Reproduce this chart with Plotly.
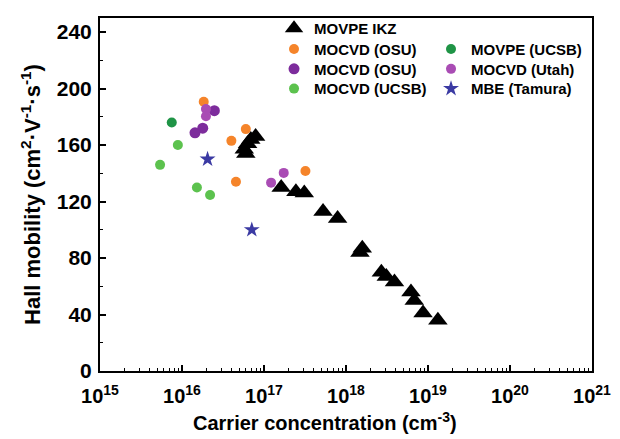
import plotly.graph_objects as go

# MOVPE IKZ
ikz_x = [5.75e16, 6.3e16, 6.9e16, 7.9e16, 6.0e16, 1.62e17, 2.45e17, 3.1e17, 5.25e17, 7.9e17,
         1.58e18, 1.48e18, 2.7e18, 3.1e18, 3.9e18, 6.2e18, 6.8e18, 8.7e18, 1.32e19]
ikz_y = [157, 161, 164, 166, 154, 130, 127, 126, 113, 108, 87, 84, 70, 67, 63, 56, 50, 41, 36]

osu_or_x = [1.84e16, 6.0e16, 4.0e16, 4.55e16, 3.2e17]
osu_or_y = [190.7, 171.3, 163, 134, 141.7]

osu_pu_x = [2.48e16, 1.79e16, 1.44e16]
osu_pu_y = [184.4, 172, 168.7]

ucsb_x = [8.9e15, 5.4e15, 1.52e16, 2.2e16]
ucsb_y = [160, 146, 130, 124.7]

movpe_ucsb_x = [7.5e15]
movpe_ucsb_y = [176]

utah_x = [1.96e16, 1.96e16, 1.74e17, 1.22e17]
utah_y = [185.5, 180.4, 140.3, 133.4]

mbe_x = [2.05e16, 7.1e16]
mbe_y = [150, 100]

x_tickvals = [1e15, 1e16, 1e17, 1e18, 1e19, 1e20, 1e21]
x_ticktext = ["<b>10<sup>%d</sup></b>" % e for e in range(15, 22)]
x_minor = [float(m) * 10.0 ** e for e in range(15, 21) for m in range(2, 10)]
y_tickvals = [0, 40, 80, 120, 160, 200, 240]

FONT = "Liberation Sans, Arial, sans-serif"

fig = go.Figure()

# (legend id, column x, row y) - one legend per entry to mimic the two-column layout
LEFT_X, RIGHT_X = 0.3537, 0.6728
ROWS = [1.0168, 0.958, 0.902, 0.846]

def add(x, y, name, color, symbol, size, legend):
    fig.add_trace(go.Scatter(
        x=x, y=y, mode="markers", name="<b>%s</b>" % name,
        marker=dict(color=color, symbol=symbol, size=size, line=dict(width=0)),
        legend=legend,
    ))

add(ikz_x, ikz_y, "MOVPE IKZ", "black", "triangle-up", 17, "legend")
add(osu_or_x, osu_or_y, "MOCVD (OSU)", "#f5842a", "circle", 10, "legend2")
add(osu_pu_x, osu_pu_y, "MOCVD (OSU)", "#7d2c9c", "circle", 11, "legend3")
add(ucsb_x, ucsb_y, "MOCVD (UCSB)", "#5cc24e", "circle", 10, "legend4")
add(movpe_ucsb_x, movpe_ucsb_y, "MOVPE (UCSB)", "#1f9446", "circle", 10, "legend5")
add(utah_x, utah_y, "MOCVD (Utah)", "#a94cb4", "circle", 10, "legend6")
add(mbe_x, mbe_y, "MBE (Tamura)", "#3b3aa3", "star", 12, "legend7")

def leg(x, y):
    return dict(x=x, y=y, xanchor="left", yanchor="top",
                font=dict(size=15, family=FONT), bgcolor="rgba(0,0,0,0)",
                tracegroupgap=0, itemwidth=30)

fig.update_layout(
    width=620, height=439,
    margin=dict(l=100, r=28, t=12, b=68),
    plot_bgcolor="white", paper_bgcolor="white",
    font=dict(family=FONT, color="black"),
    showlegend=True,
    legend=leg(LEFT_X, ROWS[0]),
    legend2=leg(LEFT_X, ROWS[1]),
    legend3=leg(LEFT_X, ROWS[2]),
    legend4=leg(LEFT_X, ROWS[3]),
    legend5=leg(RIGHT_X, ROWS[1]),
    legend6=leg(RIGHT_X, ROWS[2]),
    legend7=leg(RIGHT_X, ROWS[3]),
)

fig.add_annotation(
    text="<b>Carrier concentration (cm<sup>-3</sup>)</b>",
    xref="paper", yref="paper", x=0.458, y=-0.142, xanchor="center", yanchor="middle",
    showarrow=False, font=dict(size=20, family=FONT),
)

fig.update_xaxes(
    type="log", range=[15, 21], automargin=False,
    tickvals=x_tickvals, ticktext=x_ticktext,
    ticks="inside", ticklen=6, tickwidth=1.5, tickcolor="black",
    minor=dict(tickvals=x_minor, ticks="inside", ticklen=3, tickcolor="black", tickwidth=1),
    showline=True, linecolor="black", linewidth=2, mirror=True,
    showgrid=False, zeroline=False,
    tickfont=dict(size=20, family=FONT), ticklabelstandoff=6,
)
fig.update_yaxes(
    range=[0, 250], automargin=False, tickvals=y_tickvals,
    ticktext=["<b>%d</b>" % v for v in y_tickvals],
    ticks="inside", ticklen=6, tickwidth=1.5, tickcolor="black",
    minor=dict(dtick=20, ticks="inside", ticklen=3, tickcolor="black", tickwidth=1),
    showline=True, linecolor="black", linewidth=2, mirror=True,
    showgrid=False, zeroline=False,
    tickfont=dict(size=21, family=FONT), ticklabelstandoff=2,
    title=dict(text="<b>Hall mobility (cm<sup>2</sup>·V<sup>-1</sup>·s<sup>-1</sup>)</b>", font=dict(size=22, family=FONT), standoff=10),
)

fig.write_html("out.html", config={"displayModeBar": False},
               post_script="document.body.style.margin='0px';")
